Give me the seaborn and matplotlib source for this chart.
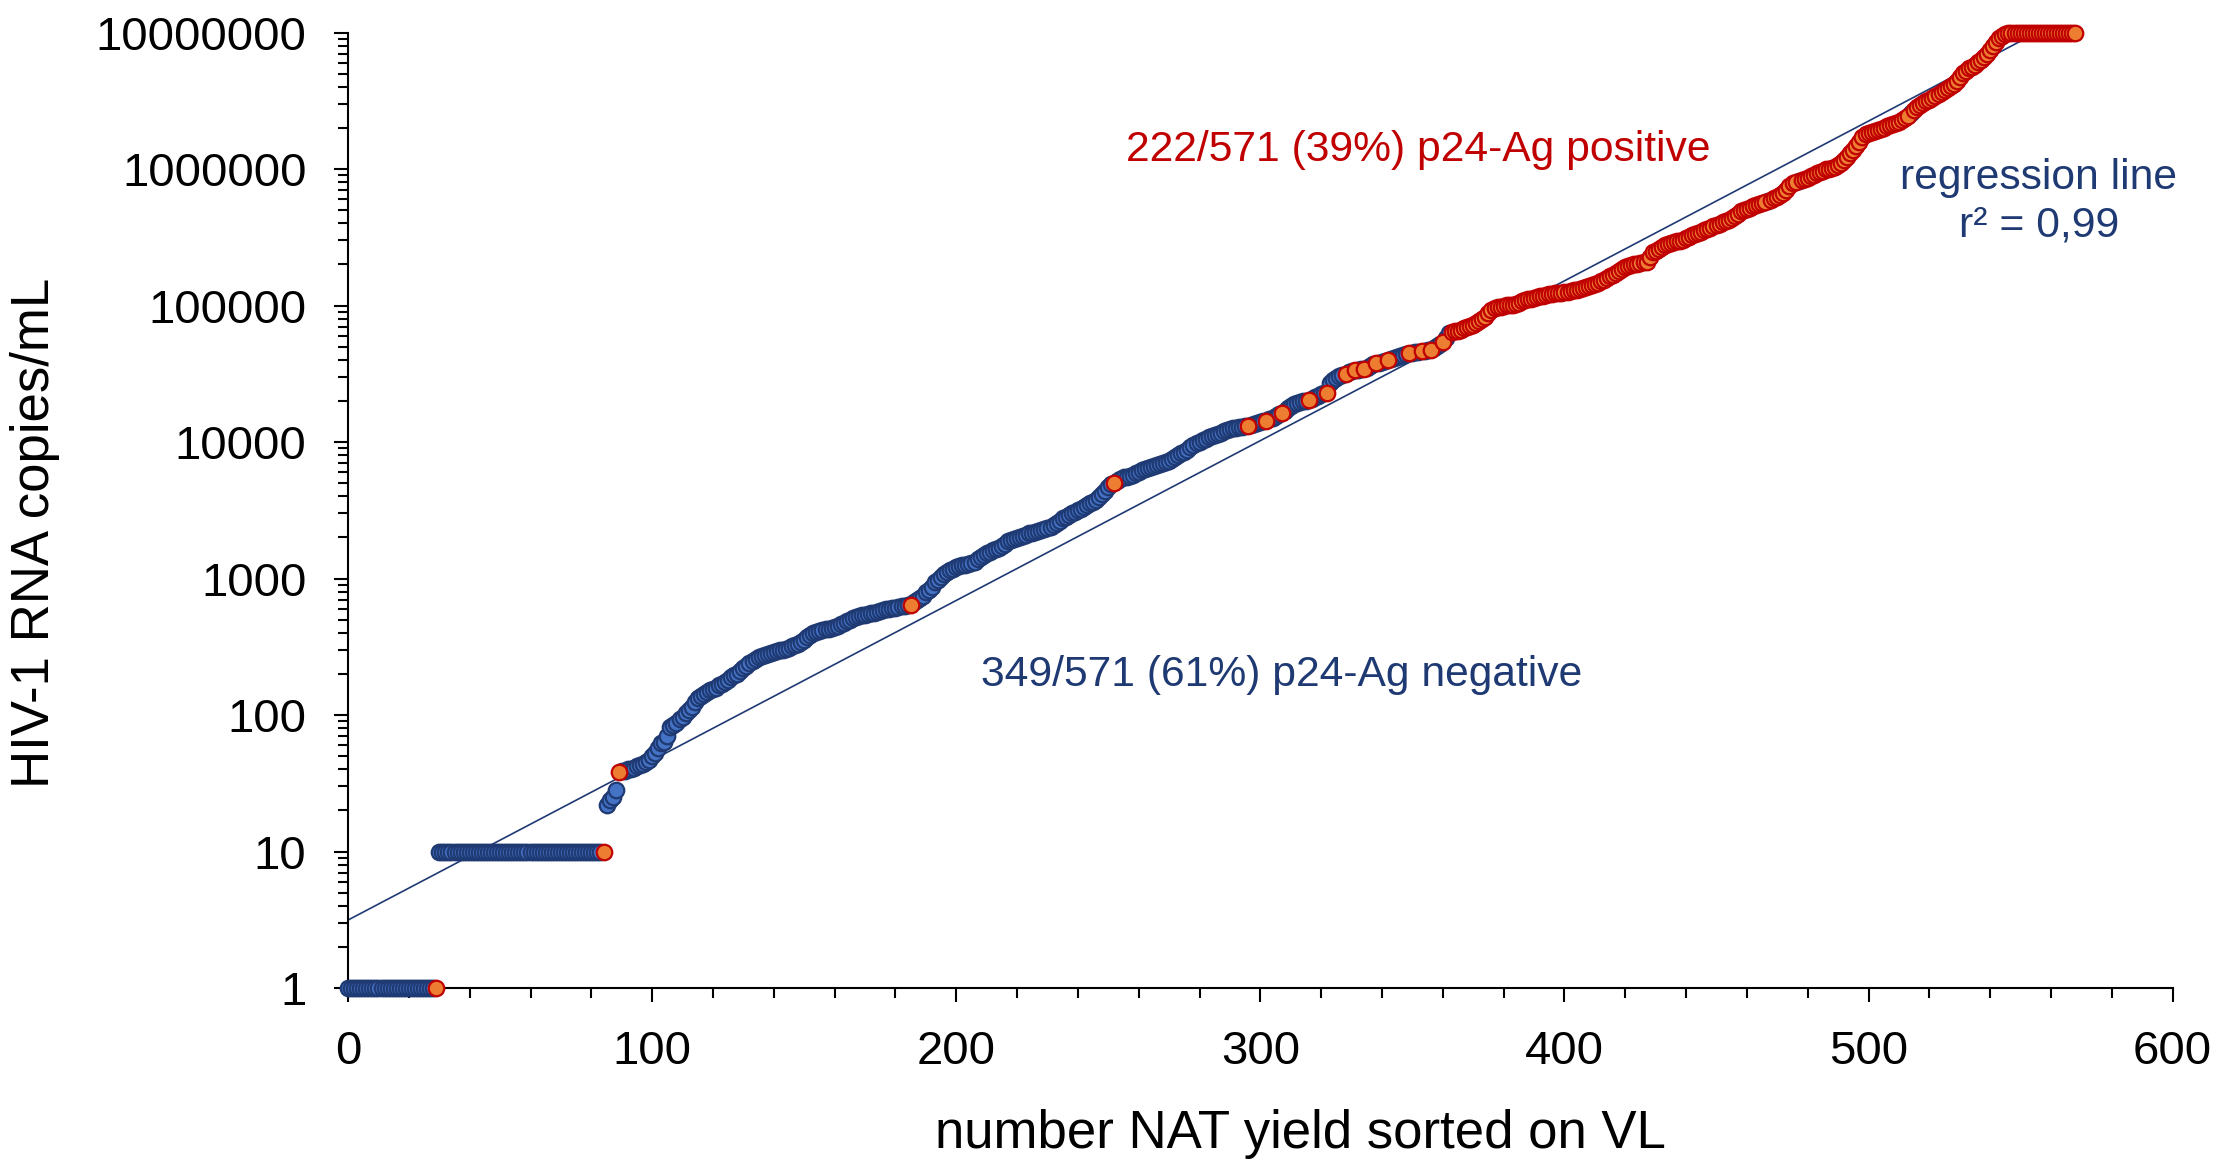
import matplotlib
matplotlib.use("Agg")
import matplotlib.pyplot as plt
import matplotlib.ticker as mticker
import numpy as np
import pandas as pd
import seaborn as sns


# viral loads (copies/mL), sorted; runs at the detection floor / ceiling
N_AT_1 = 30
N_AT_10 = 55
N_AT_MAX = 22
VL_MAX = 10000000

# rising part, points 85..546
VL_RISING = [
    22, 24, 25, 28, 38,
    39, 39, 40, 40, 41, 42, 43, 44, 45, 47,
    50, 53, 57, 62, 63, 70, 82, 85, 88, 93,
    97, 103, 108, 115, 125, 133, 138, 142, 148, 152,
    155, 158, 165, 170, 175, 182, 190, 195, 200, 210,
    220, 230, 240, 250, 258, 265, 270, 275, 280, 285,
    290, 294, 297, 300, 305, 312, 318, 325, 333, 342,
    355, 370, 385, 397, 405, 412, 418, 424, 430, 434,
    440, 450, 462, 475, 488, 500, 512, 520, 528, 536,
    544, 550, 556, 562, 570, 578, 586, 593, 600, 606,
    612, 618, 624, 630, 636, 645, 670, 700, 720, 740,
    790, 830, 870, 940, 980, 1030, 1080, 1120, 1150, 1180,
    1210, 1230, 1250, 1265, 1280, 1295, 1330, 1380, 1440, 1490,
    1530, 1570, 1610, 1640, 1665, 1720, 1800, 1870, 1910, 1940,
    1980, 2010, 2050, 2100, 2140, 2170, 2200, 2240, 2270, 2300,
    2330, 2380, 2460, 2560, 2660, 2760, 2840, 2920, 3000, 3080,
    3170, 3250, 3330, 3430, 3560, 3660, 3760, 3950, 4150, 4400,
    4700, 4900, 5050, 5200, 5350, 5500, 5580, 5660, 5750, 5880,
    6050, 6200, 6330, 6450, 6560, 6670, 6780, 6880, 6980, 7120,
    7300, 7500, 7750, 8000, 8250, 8500, 8800, 9150, 9500, 9800,
    10050, 10300, 10550, 10800, 11050, 11250, 11450, 11700, 11950, 12200,
    12450, 12600, 12750, 12850, 12950, 13050, 13100, 13300, 13550, 13800,
    14050, 14200, 14300, 14700, 15100, 15500, 15950, 16400, 17000, 17700,
    18400, 19000, 19300, 19600, 19900, 20100, 20300, 20700, 21200, 21700,
    22300, 22800, 23000, 27000, 28500, 29500, 30500, 31200, 31500, 32500,
    33000, 33500, 33800, 34000, 34200, 35000, 36000, 37000, 37700, 38200,
    38700, 39300, 39900, 40600, 41400, 42200, 43000, 43600, 44200, 44650,
    45100, 45500, 45900, 46300, 46700, 47000, 47200, 48500, 50500, 52500,
    54300, 58000, 63000, 64300, 64800, 65500, 66500, 68000, 69500, 70800,
    71900, 74000, 76500, 79500, 82800, 88000, 93000, 95400, 97000, 98300,
    99500, 100300, 100800, 101000, 103000, 105000, 107000, 109000, 111000, 112500,
    113500, 115000, 116500, 118000, 119500, 120500, 121500, 122500, 123500, 124500,
    125500, 126500, 128000, 129500, 131000, 133000, 135000, 137400, 139500, 141500,
    143500, 145500, 150000, 155000, 160000, 164000, 167200, 172000, 178000, 185000,
    192000, 196000, 199000, 201000, 203000, 205000, 207000, 209400, 225000, 245000,
    252000, 260000, 268000, 277000, 282000, 287000, 291000, 295000, 299000, 302000,
    310000, 318000, 326000, 333000, 340000, 348000, 356000, 364000, 372000, 380000,
    389000, 398000, 407000, 416000, 423000, 438000, 455000, 472000, 490000, 502000,
    512000, 522000, 532000, 542000, 552000, 561000, 572000, 584000, 597000, 611000,
    625000, 645000, 670000, 705000, 745000, 785000, 800000, 815000, 830000, 848000,
    865000, 885000, 910000, 935000, 958000, 975000, 992000, 1008000, 1022000, 1038000,
    1070000, 1110000, 1160000, 1220000, 1300000, 1380000, 1470000, 1580000, 1720000, 1790000,
    1830000, 1870000, 1900000, 1930000, 1970000, 2010000, 2050000, 2090000, 2130000, 2180000,
    2220000, 2290000, 2370000, 2460000, 2560000, 2700000, 2850000, 2960000, 3050000, 3140000,
    3230000, 3300000, 3400000, 3520000, 3650000, 3790000, 3920000, 4060000, 4200000, 4450000,
    4750000, 5020000, 5250000, 5450000, 5620000, 5820000, 6050000, 6300000, 6650000, 7000000,
    7400000, 8000000, 8500000, 9050000, 9400000, 9700000, 9850000,
]

# p24-Ag positive points (by rank)
RED_SINGLES = [29, 84, 89, 185, 252, 296, 302, 307, 316, 322, 328, 331, 334,
               338, 342, 349, 353, 356, 360]
RED_FROM = 363
BLUE_LATE = [467, 477, 514]

# regression line: log10(VL) = a + b * rank
REG_A = 0.498
REG_B = 0.011707

LABEL_POS = "222/571 (39%) p24-Ag positive"
LABEL_NEG = "349/571 (61%) p24-Ag negative"
LABEL_REG = "regression line\nr\u00b2 = 0,99"

NAVY = "#1F3A73"
BLUE_FILL = "#4472C4"
RED_EDGE = "#C00000"
ORANGE_FILL = "#ED7D31"


def build_frame():
    vl = [1] * N_AT_1 + [10] * N_AT_10 + VL_RISING + [VL_MAX] * N_AT_MAX
    df = pd.DataFrame({"rank": np.arange(len(vl)), "vl": vl})
    red = set(RED_SINGLES) | set(range(RED_FROM, len(vl)))
    red -= set(BLUE_LATE)
    df["p24"] = np.where(df["rank"].isin(red), "pos", "neg")
    return df


def main():
    df = build_frame()

    sns.set_style("ticks")
    plt.rcParams["font.family"] = ["Liberation Sans", "DejaVu Sans"]
    for key in ["text.color", "axes.labelcolor", "xtick.color", "ytick.color"]:
        plt.rcParams[key] = "black"

    fig = plt.figure(figsize=(22.17, 11.61), dpi=100)
    ax = fig.add_axes([0.157, 0.149, 0.823, 0.823])

    reg = pd.DataFrame({"rank": [0, df["rank"].max()]})
    reg["vl"] = 10 ** (REG_A + REG_B * reg["rank"])
    sns.lineplot(data=reg, x="rank", y="vl", color=NAVY, linewidth=1.2, ax=ax)

    sns.scatterplot(data=df[df["p24"] == "neg"], x="rank", y="vl", ax=ax,
                    color=BLUE_FILL, edgecolor=NAVY, linewidth=1.6, s=125,
                    clip_on=False, zorder=3)
    sns.scatterplot(data=df[df["p24"] == "pos"], x="rank", y="vl", ax=ax,
                    color=ORANGE_FILL, edgecolor=RED_EDGE, linewidth=1.6, s=125,
                    clip_on=False, zorder=4)

    ax.set_yscale("log")
    ax.set_xlim(0, 600)
    ax.set_ylim(1, 1e7)

    ax.xaxis.set_major_locator(mticker.MultipleLocator(100))
    ax.xaxis.set_minor_locator(mticker.MultipleLocator(20))
    ax.yaxis.set_major_locator(mticker.LogLocator(base=10, numticks=10))
    ax.yaxis.set_minor_locator(mticker.LogLocator(base=10, subs=np.arange(2, 10), numticks=20))
    ax.yaxis.set_major_formatter(mticker.FuncFormatter(lambda v, p: f"{int(round(v))}"))
    ax.yaxis.set_minor_formatter(mticker.NullFormatter())

    ax.tick_params(which="major", length=10, width=1.5, labelsize=34, pad=20,
                   color="black", labelcolor="black")
    ax.tick_params(which="minor", length=7.5, width=1.5, color="black")
    for side in ["left", "bottom"]:
        ax.spines[side].set_linewidth(1.5)
        ax.spines[side].set_color("black")
    sns.despine(ax=ax)

    ax.set_xlabel("number NAT yield sorted on VL", fontsize=38, va="center")
    ax.set_ylabel("HIV-1 RNA copies/mL", fontsize=38, va="center")
    ax.xaxis.set_label_coords(0.5217, -0.153)
    ax.yaxis.set_label_coords(-0.1715, 0.476)

    ax.text(352, 10 ** 6.14, LABEL_POS, color=RED_EDGE, fontsize=30.7, ha="center", va="center")
    ax.text(307, 10 ** 2.29, LABEL_NEG, color=NAVY, fontsize=30.7, ha="center", va="center")
    ax.text(556, 10 ** 5.76, LABEL_REG, color=NAVY, fontsize=30.7, ha="center", va="center",
            linespacing=1.22)

    fig.savefig("out.png", dpi=100)


if __name__ == "__main__":
    main()
